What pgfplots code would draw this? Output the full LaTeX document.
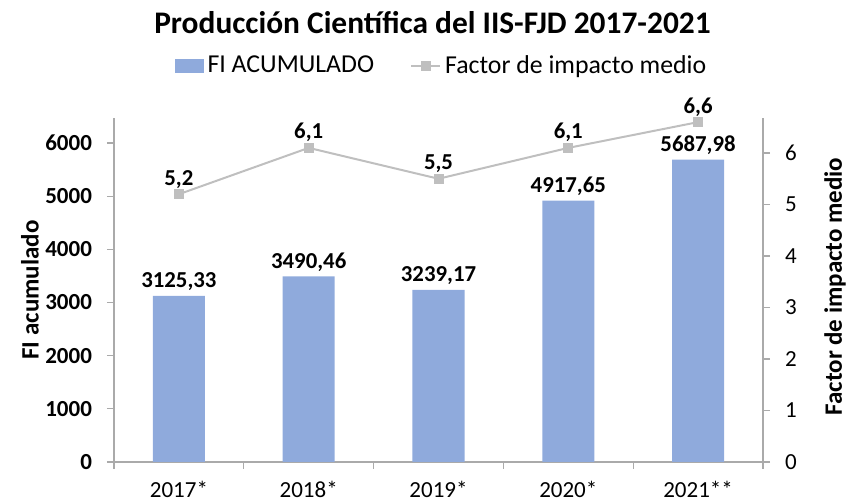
\documentclass[border=0pt]{standalone}
\usepackage{pgfplots}
\pgfplotsset{compat=1.18}
\usepackage{fontspec}
\setmainfont{Carlito}
\definecolor{barblue}{RGB}{143,170,220}
\definecolor{linegray}{RGB}{191,191,191}
\definecolor{axgray}{RGB}{170,170,170}
\pgfplotsset{/pgf/number format/assume math mode=true, /pgf/number format/1000 sep={}}
\begin{document}
\begin{tikzpicture}
\useasboundingbox (-57pt,-19.5pt) rectangle (367.5pt,231pt);
\pgfplotsset{every axis/.append style={
  scale only axis, width=324.5pt, height=172pt,
  at={(0,0)}, anchor=south west,
  xmin=-0.5, xmax=4.5,
  axis line style={axgray, line width=0.6pt},
  tick style={axgray, line width=0.6pt},
  tick align=outside, major tick length=3.5pt,
  tick label style={font=\fontsize{11.5}{13}\selectfont},
}}
% bars: FI acumulado
\begin{axis}[
  axis y line*=left, axis x line*=bottom,
  ymin=0, ymax=6470, ytick={0,1000,...,6000},
  yticklabel style={font=\fontsize{11.5}{13}\selectfont\bfseries, xshift=-4pt},
  xtick={-0.5,0.5,...,4.5}, xticklabels={},
  extra x ticks={0,1,2,3,4},
  extra x tick labels={2017*,2018*,2019*,2020*,2021**},
  extra x tick style={major tick length=0pt, tick label style={yshift=-6pt}},
  ylabel={FI acumulado},
  ylabel style={at={(axis description cs:-0.1294,0.5)}, anchor=center, rotate=0, font=\fontsize{12.5}{15}\selectfont\bfseries},
  ybar, bar width=26pt,
]
\addplot[fill=barblue, draw=none, nodes near coords,
  every node near coord/.append style={anchor=base, yshift=4pt, text=black,
    font=\fontsize{11.4}{13}\selectfont\bfseries,
    /pgf/number format/fixed, /pgf/number format/fixed zerofill,
    /pgf/number format/precision=2, /pgf/number format/use comma,
    /pgf/number format/1000 sep={}}]
  coordinates {(0,3125.33) (1,3490.46) (2,3239.17) (3,4917.65) (4,5687.98)};
\end{axis}
% line: factor de impacto medio
\begin{axis}[
  axis y line*=right, axis x line=none,
  ymin=0, ymax=6.68, ytick={0,1,...,6},
  yticklabel style={xshift=4pt},
  ylabel={Factor de impacto medio},
  ylabel style={at={(axis description cs:1.111,0.51)}, anchor=center, rotate=0, font=\fontsize{12.5}{15}\selectfont\bfseries},
  title={Producción Científica del IIS-FJD 2017-2021},
  title style={at={(axis description cs:0.5,1)}, anchor=base, yshift=36pt, xshift=-3pt, font=\fontsize{15.7}{18}\selectfont\bfseries},
  legend style={draw=none, fill=none, at={(0.5,1)}, anchor=base, yshift=26pt, xshift=2pt,
    legend columns=2, font=\fontsize{12.9}{15}\selectfont,
    /tikz/every even column/.append style={column sep=16pt}},
]
\addlegendimage{legend image code/.code={\fill[barblue] (0pt,-3.3pt) rectangle (14pt,3.3pt);}}
\addlegendentry{FI ACUMULADO}
\addplot[linegray, line width=1pt, mark=square*, mark size=2pt,
  mark options={fill=linegray, draw=linegray},
  legend image code/.code={\draw[linegray, line width=1pt] (0pt,0pt) -- (14.5pt,0pt);
    \fill[linegray] (5.25pt,-2pt) rectangle (9.25pt,2pt);},
  nodes near coords,
  every node near coord/.append style={anchor=base, yshift=4.5pt, text=black,
    font=\fontsize{11.4}{13}\selectfont\bfseries,
    /pgf/number format/fixed, /pgf/number format/fixed zerofill,
    /pgf/number format/precision=1, /pgf/number format/use comma}]
  coordinates {(0,5.2) (1,6.1) (2,5.5) (3,6.1) (4,6.6)};
\addlegendentry{Factor de impacto medio}
\end{axis}
\end{tikzpicture}
\end{document}
